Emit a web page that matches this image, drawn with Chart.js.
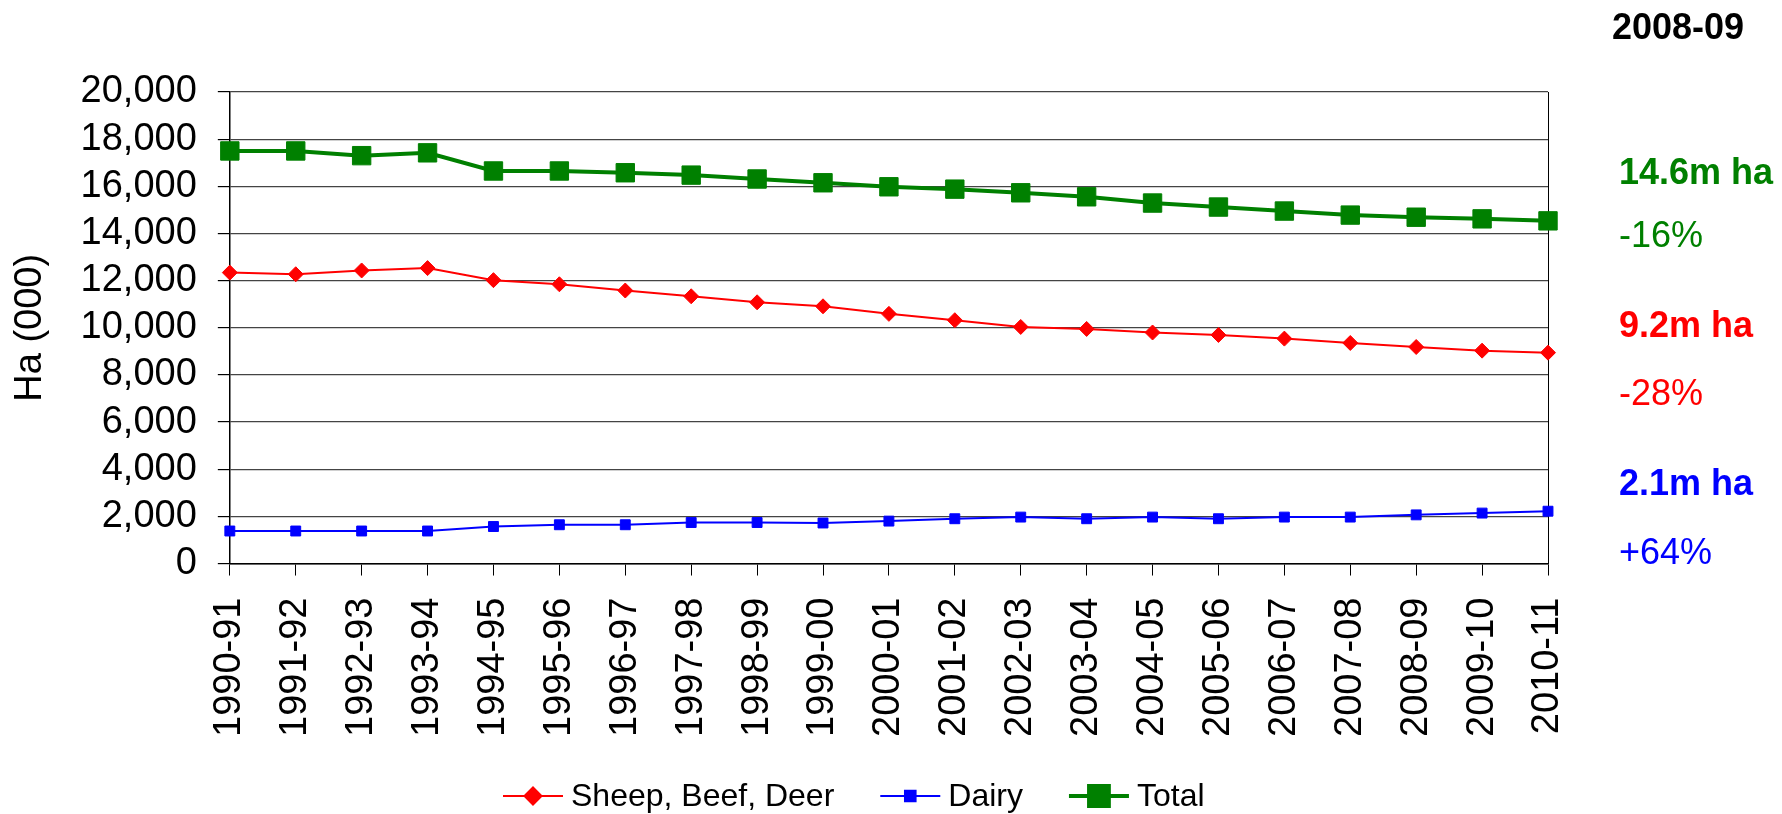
<!DOCTYPE html>
<html>
<head>
<meta charset="utf-8">
<script src="https://cdn.jsdelivr.net/npm/chart.js@4"></script>
<style>
  html, body { margin: 0; padding: 0; background: #fff; }
  #wrap { width: 1782px; height: 814px; }
</style>
</head>
<body>
<div id="wrap"><canvas id="pastoral_line"></canvas></div>
<script>
// years (x axis)
const years = [
  "1990-91", "1991-92", "1992-93", "1993-94", "1994-95", "1995-96", "1996-97",
  "1997-98", "1998-99", "1999-00", "2000-01", "2001-02", "2002-03", "2003-04",
  "2004-05", "2005-06", "2006-07", "2007-08", "2008-09", "2009-10", "2010-11",
];

// hectares (000)
const sheepBeefDeer = [12340, 12270, 12430, 12530, 12020, 11845, 11580, 11335, 11080, 10910,
  10590, 10320, 10035, 9950, 9800, 9695, 9540, 9355, 9185, 9030, 8945];
const dairy = [1380, 1380, 1380, 1380, 1570, 1645, 1645, 1740, 1740, 1720,
  1800, 1900, 1970, 1900, 1970, 1900, 1970, 1970, 2065, 2140, 2220];
const total = [17500, 17500, 17300, 17420, 16650, 16650, 16575, 16475, 16310, 16150,
  15980, 15880, 15725, 15555, 15290, 15120, 14950, 14780, 14690, 14620, 14535];

const seriesNames = ["Sheep, Beef, Deer", "Dairy", "Total"];
const yTicks = [0, 20000, 2000]; // min, max, step

// notes on the right
const noteYear = "2008-09";
const noteArea = ["14.6m ha", "9.2m ha", "2.1m ha"];
const noteChange = ["-16%", "-28%", "+64%"];

const FONT = "'Liberation Sans', Arial, sans-serif";
const colores = ["#FF0000", "#0000FF", "#008000"];

// notas + borde derecho + leyenda propia
const extras = {
  id: "extras",
  beforeDatasetsDraw(chart) {
    const { ctx, chartArea } = chart;
    ctx.save();
    ctx.strokeStyle = "#000";
    ctx.lineWidth = 1;
    ctx.beginPath();
    ctx.moveTo(Math.round(chartArea.right) + 0.5, chartArea.top);
    ctx.lineTo(Math.round(chartArea.right) + 0.5, chartArea.bottom);
    ctx.stroke();
    ctx.restore();
  },
  afterDraw(chart) {
    const ctx = chart.ctx;
    ctx.save();
    ctx.textBaseline = "middle";
    ctx.textAlign = "left";
    ctx.fillStyle = "#000";
    ctx.font = "bold 36px " + FONT;
    ctx.fillText(noteYear, 1612, 29);

    const noteColors = ["#008000", "#FF0000", "#0000FF"];
    const areaY = [174, 327, 485];
    const changeY = [237, 395, 554];
    for (let i = 0; i < 3; i++) {
      ctx.fillStyle = noteColors[i];
      ctx.font = "bold 36px " + FONT;
      ctx.fillText(noteArea[i], 1619, areaY[i]);
      ctx.font = "36px " + FONT;
      ctx.fillText(noteChange[i], 1619, changeY[i]);
    }

    // leyenda
    let x = 503;
    const y = 796;
    ctx.font = "32px " + FONT;
    chart.data.datasets.forEach((ds) => {
      ctx.strokeStyle = ds.borderColor;
      ctx.lineWidth = ds.borderWidth;
      ctx.beginPath();
      ctx.moveTo(x, y);
      ctx.lineTo(x + 60, y);
      ctx.stroke();
      Chart.helpers.drawPoint(ctx, {
        pointStyle: ds.pointStyle,
        radius: ds.legendRadius,
        borderWidth: 1,
      }, x + 30, y);
      ctx.fillStyle = ds.backgroundColor;
      ctx.fill();
      ctx.fillStyle = "#000";
      ctx.fillText(ds.label, x + 68, y + 1);
      x += 68 + ctx.measureText(ds.label).width + 46;
    });
    ctx.restore();
  },
};

const ctx = document.getElementById("pastoral_line").getContext("2d");
const grafico = new Chart(ctx, {
  type: "line",
  data: {
    labels: years,
    datasets: [
      {
        label: seriesNames[0],
        data: sheepBeefDeer,
        borderColor: colores[0],
        backgroundColor: colores[0],
        borderWidth: 2,
        pointStyle: "rectRot",
        pointRadius: 7.5,
        pointBorderWidth: 1,
        legendRadius: 8.5,
        tension: 0,
      },
      {
        label: seriesNames[1],
        data: dairy,
        borderColor: colores[1],
        backgroundColor: colores[1],
        borderWidth: 2,
        pointStyle: "rect",
        pointRadius: 7,
        pointBorderWidth: 1,
        legendRadius: 7.5,
        tension: 0,
      },
      {
        label: seriesNames[2],
        data: total,
        borderColor: colores[2],
        backgroundColor: colores[2],
        borderWidth: 4,
        pointStyle: "rect",
        pointRadius: 13,
        pointBorderWidth: 1,
        legendRadius: 14,
        tension: 0,
      },
    ],
  },
  options: {
    responsive: true,
    maintainAspectRatio: false,
    animation: false,
    layout: {
      padding: { left: 4, right: 234, top: 92, bottom: 55 },
    },
    scales: {
      x: {
        offset: false,
        grid: {
          display: true,
          drawOnChartArea: false,
          drawTicks: true,
          tickLength: 12,
          tickColor: "#000",
        },
        border: { display: true, color: "#000", width: 1.5 },
        ticks: {
          autoSkip: false,
          maxRotation: 90,
          minRotation: 90,
          padding: 22,
          color: "#000",
          font: { family: FONT, size: 38 },
        },
      },
      y: {
        min: yTicks[0],
        max: yTicks[1],
        grid: {
          color: "#444",
          lineWidth: 1.2,
          tickLength: 12,
          tickColor: "#000",
        },
        border: { display: true, color: "#000", width: 1.5 },
        ticks: {
          autoSkip: false,
          stepSize: yTicks[2],
          padding: 21,
          color: "#000",
          font: { family: FONT, size: 38 },
          callback: function (value) {
            return new Intl.NumberFormat("en-US").format(value);
          },
        },
        title: {
          display: true,
          text: "Ha (000)",
          color: "#000",
          font: { family: FONT, size: 38 },
          padding: { top: 4, bottom: 6 },
        },
      },
    },
    plugins: {
      legend: { display: false },
      tooltip: { enabled: false },
    },
  },
  plugins: [extras],
});
</script>
</body>
</html>
